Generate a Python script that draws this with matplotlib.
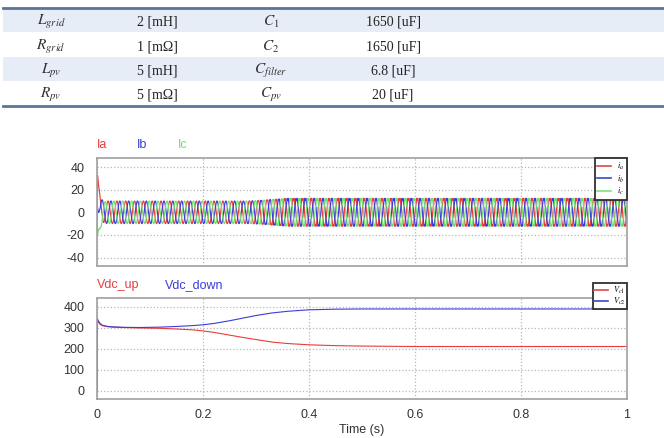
import numpy as np
import matplotlib
matplotlib.use("Agg")
import matplotlib.pyplot as plt
from matplotlib.lines import Line2D
from matplotlib.patches import Rectangle

plt.rcParams['font.family'] = ['Liberation Sans', 'DejaVu Sans']
plt.rcParams['axes.unicode_minus'] = False
plt.rcParams['mathtext.fontset'] = 'stix'

# 参数表
tbl_names1 = [r'$L_{grid}$', r'$R_{grid}$', r'$L_{pv}$', r'$R_{pv}$']
tbl_vals1 = ['2 [mH]', '1 [mΩ]', '5 [mH]', '5 [mΩ]']
tbl_names2 = [r'$C_1$', r'$C_2$', r'$C_{filter}$', r'$C_{pv}$']
tbl_vals2 = ['1650 [uF]', '1650 [uF]', '6.8 [uF]', '20 [uF]']

# 三相电流 (60 Hz), 幅值包络读自图
f_grid = 60.0
amp_t = [0.0, 0.28, 0.36, 1.0]
amp_v = [10.0, 10.0, 12.0, 12.0]
# 0.3 s 之后的纹波 (7 次谐波幅值)
rip_t = [0.0, 0.28, 0.36, 1.0]
rip_v = [0.0, 0.0, 1.3, 1.3]
# 起动瞬态
tr_t = [0.0, 0.001, 0.003, 0.006, 0.012, 0.02]
ia_tr = [0.0, 29.0, 14.0, 4.0, 1.0, 0.0]
ib_tr = [0.0, 14.0, 8.0, 2.0, 0.5, 0.0]
ic_tr = [0.0, -26.0, -14.0, -4.0, -1.0, 0.0]

# 直流电容电压
t_v = [0, 0.0005, 0.002, 0.005, 0.01, 0.02, 0.03, 0.05, 0.08, 0.1, 0.12, 0.15,
       0.18, 0.2, 0.22, 0.25, 0.28, 0.3, 0.33, 0.36, 0.4, 0.45, 0.5, 0.55,
       0.6, 0.7, 0.8, 0.9, 1.0]
vc1 = [0, 340, 330, 318, 310, 305, 303, 301, 299, 298, 297, 294, 290, 285,
       278, 265, 252, 244, 232, 225, 219, 215, 213, 212, 211, 211, 211, 211, 211]
vc2 = [0, 345, 335, 322, 312, 306, 304, 302, 301, 302, 303, 306, 310, 314,
       320, 333, 348, 358, 370, 378, 385, 388, 389, 389, 389, 389, 389, 389, 389]

RED = '#e83c3c'
BLUE = '#3c3cd8'
GREEN = '#6ee06e'

W, H = 664, 438
fig = plt.figure(figsize=(W / 100, H / 100), dpi=100)


def px(x, y):
    return x / W, 1 - y / H


# ---- 表格 ----
tax = fig.add_axes([0, 0, 1, 1])
tax.set_xlim(0, W)
tax.set_ylim(H, 0)
tax.axis('off')
row_top = [8, 33, 57, 81]
row_h = 24
for i in range(4):
    if i % 2 == 0:
        tax.add_patch(Rectangle((3, row_top[i]), W - 3, row_h, color='#e6edf6', lw=0))
    yc = row_top[i] + row_h / 2 + 2
    tax.text(51, yc, tbl_names1[i], ha='center', va='center', fontsize=11, color='#333333')
    tax.text(157, yc, tbl_vals1[i], ha='center', va='center', fontsize=10,
             family='Liberation Serif', color='#222222')
    tax.text(271, yc, tbl_names2[i], ha='center', va='center', fontsize=11, color='#333333')
    tax.text(393, yc, tbl_vals2[i], ha='center', va='center', fontsize=10,
             family='Liberation Serif', color='#222222')
tax.plot([3, W], [7.5, 7.5], color='#5a7596', lw=2)
tax.plot([3, W], [105.5, 105.5], color='#5a7596', lw=2)


def style_axes(ax):
    for s in ax.spines.values():
        s.set_color('#a0a0a0')
        s.set_linewidth(1.2)
    ax.grid(True, color='#b8b8b8', linestyle=':', linewidth=0.9)
    ax.tick_params(length=0, labelsize=9, colors='#333333', pad=9)
    ax.set_xlim(0, 1)
    ax.set_xticks([0, 0.2, 0.4, 0.6, 0.8, 1])


# ---- 电流 ----
t = np.linspace(0, 1, 40001)
amp = np.interp(t, amp_t, amp_v)
rip = np.interp(t, rip_t, rip_v)
w = 2 * np.pi * f_grid * t
ia = amp * np.sin(w) + rip * np.sin(7 * w) + np.interp(t, tr_t, ia_tr)
ib = amp * np.sin(w - 2 * np.pi / 3) + rip * np.sin(7 * (w - 2 * np.pi / 3)) + np.interp(t, tr_t, ib_tr)
ic = amp * np.sin(w + 2 * np.pi / 3) + rip * np.sin(7 * (w + 2 * np.pi / 3)) + np.interp(t, tr_t, ic_tr)

x0, x1 = 97, 627
ax1 = fig.add_axes([x0 / W, 1 - 266 / H, (x1 - x0) / W, 108 / H])
ax1.plot(t, ia, color=RED, lw=0.85)
ax1.plot(t, ib, color=BLUE, lw=0.85)
ax1.plot(t, ic, color=GREEN, lw=0.85)
style_axes(ax1)
ax1.set_ylim(-47.5, 48)
ax1.set_yticks([-40, -20, 0, 20, 40])
ax1.set_xticklabels([])
leg_h = [Line2D([], [], color=c, lw=1.2) for c in ['#e04848', '#3a48c0', '#80e080']]
lg = ax1.legend(leg_h, [r'$i_a$', r'$i_b$', r'$i_c$'], loc='upper right',
                bbox_to_anchor=(1.0, 1.0), borderaxespad=0, fontsize=6,
                handlelength=1.6, borderpad=0.3, labelspacing=0.2,
                handletextpad=0.8, fancybox=False, framealpha=1,
                edgecolor='#303030')
lg.get_frame().set_linewidth(1.3)

fig.text(*px(97, 145), 'Ia', color=RED, fontsize=9, va='center')
fig.text(*px(137, 145), 'Ib', color=BLUE, fontsize=9, va='center')
fig.text(*px(178, 145), 'Ic', color=GREEN, fontsize=9, va='center')

# ---- 电压 ----
ax2 = fig.add_axes([x0 / W, 1 - 399 / H, (x1 - x0) / W, 101 / H])
ax2.plot(t_v, vc1, color=RED, lw=0.8)
ax2.plot(t_v, vc2, color=BLUE, lw=0.8)
style_axes(ax2)
ax2.set_ylim(-38, 441)
ax2.set_yticks([0, 100, 200, 300, 400])
ax2.set_xticklabels(['0', '0.2', '0.4', '0.6', '0.8', '1'])
ax2.tick_params(axis='x', pad=7)
ax2.set_xlabel('Time (s)', fontsize=9, color='#333333', labelpad=2)
leg_h2 = [Line2D([], [], color=c, lw=1.2) for c in ['#e04848', '#3a48c0']]
lg2 = ax2.legend(leg_h2, [r'$V_{c1}$', r'$V_{c2}$'], loc='upper right',
                 bbox_to_anchor=(1.0, 1.15), borderaxespad=0, fontsize=6,
                 handlelength=1.6, borderpad=0.2, labelspacing=0.05,
                 handletextpad=0.6, fancybox=False, framealpha=1,
                 edgecolor='#303030')
lg2.get_frame().set_linewidth(1.3)

fig.text(*px(97, 285), 'Vdc_up', color=RED, fontsize=9, va='center')
fig.text(*px(165, 285), 'Vdc_down', color=BLUE, fontsize=9, va='center')

fig.savefig('out.png', dpi=100)
